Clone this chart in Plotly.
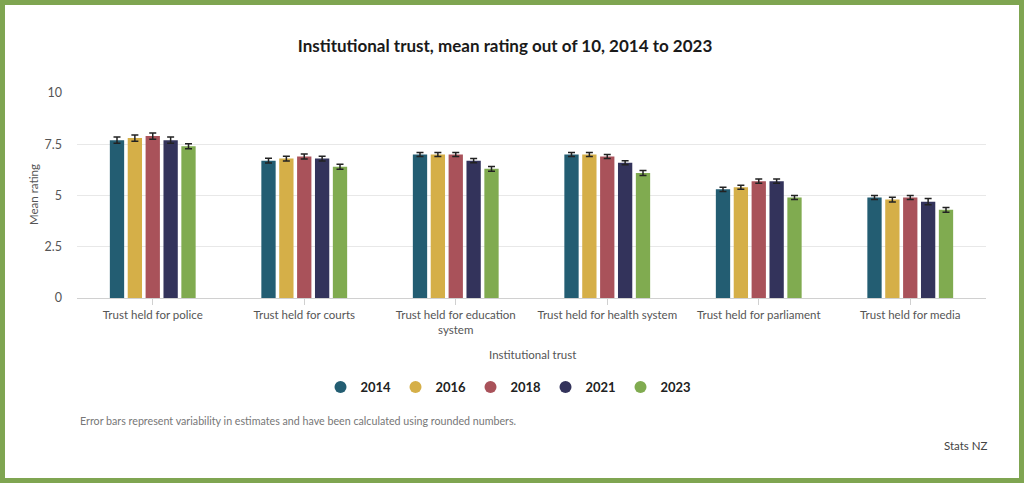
import plotly.graph_objects as go

categories = ["Trust held for police", "Trust held for courts", "Trust held for education<br>system",
              "Trust held for health system", "Trust held for parliament", "Trust held for media"]
years = ["2014", "2016", "2018", "2021", "2023"]
values = {
    "2014": [7.7, 6.7, 7.0, 7.0, 5.3, 4.9],
    "2016": [7.8, 6.8, 7.0, 7.0, 5.4, 4.8],
    "2018": [7.9, 6.9, 7.0, 6.9, 5.7, 4.9],
    "2021": [7.7, 6.8, 6.7, 6.6, 5.7, 4.7],
    "2023": [7.4, 6.4, 6.3, 6.1, 4.9, 4.3],
}
errors = {
    "2014": [0.15, 0.12, 0.1, 0.1, 0.1, 0.1],
    "2016": [0.15, 0.12, 0.1, 0.1, 0.1, 0.12],
    "2018": [0.15, 0.12, 0.1, 0.1, 0.1, 0.1],
    "2021": [0.15, 0.12, 0.1, 0.1, 0.1, 0.15],
    "2023": [0.12, 0.12, 0.12, 0.12, 0.1, 0.12],
}
colors = {"2014": "#235d72", "2016": "#d5af48", "2018": "#a9525a", "2021": "#33335b", "2023": "#80ab50"}
y_ticks = [0, 2.5, 5, 7.5, 10]
y_ticktext = ["0", "2.5", "5", "7.5", "10"]

W, H = 1024, 483
L, R, T, B = 77, 986, 93, 298
pw, ph = R - L, B - T

def px(x):
    return (x - L) / pw

def py(y):
    return (B - y) / ph

FONT = "Lato"
fig = go.Figure()
for yr in years:
    fig.add_trace(go.Bar(
        x=categories, y=values[yr], name=yr, marker_color=colors[yr], marker_line_width=0,
        error_y=dict(type="data", array=errors[yr], color="#222", thickness=1.5, width=3.5),
        showlegend=False,
    ))
for yr in years:
    fig.add_trace(go.Scatter(
        x=[None], y=[None], mode="markers", name=yr,
        marker=dict(symbol="circle", size=15, color=colors[yr]),
        showlegend=True,
    ))

fig.update_layout(
    width=W, height=H,
    margin=dict(l=L, r=W - R, t=T, b=H - B, autoexpand=False),
    paper_bgcolor="white", plot_bgcolor="white",
    barmode="group", bargap=0.41, bargroupgap=0.2,
    font=dict(family=FONT, color="#555"),
    title=dict(text="<b>Institutional trust, mean rating out of 10, 2014 to 2023</b>",
               x=505 / W, xanchor="center", xref="container",
               y=1 - 46 / H, yanchor="middle", yref="container",
               font=dict(family=FONT, size=17, color="#1a1a1a")),
    legend=dict(orientation="h", x=px(508), xanchor="center", y=py(387), yanchor="middle",
                font=dict(family=FONT, size=13, color="#222", weight="bold"),
                entrywidth=30, itemsizing="constant", bgcolor="rgba(0,0,0,0)"),
    xaxis=dict(showgrid=False, showline=True, linecolor="#d0d0d0", linewidth=1,
               ticks="outside", ticklen=6, tickcolor="#d0d0d0",
               tickfont=dict(family=FONT, size=11.5, color="#555"), tickangle=0,
               fixedrange=True),
    yaxis=dict(range=[0, 10], tickvals=y_ticks, ticktext=y_ticktext,
               showgrid=True, gridcolor="#e8e8e8", gridwidth=1, zeroline=False,
               showline=False, ticks="", ticklabelstandoff=14,
               tickfont=dict(family=FONT, size=12.5, color="#555")),
    shapes=[dict(type="rect", xref="paper", yref="paper",
                 x0=px(2.5), x1=px(W - 2.5), y0=py(H - 2.5), y1=py(2.5),
                 line=dict(color="#7fa551", width=5), fillcolor="rgba(0,0,0,0)", layer="above")],
    annotations=[
        dict(text="Institutional trust", xref="paper", yref="paper", x=px(532), y=py(354),
             showarrow=False, font=dict(family=FONT, size=11.5, color="#555"),
             xanchor="center", yanchor="middle"),
        dict(text="Mean rating", xref="paper", yref="paper", x=px(33), y=py(195), textangle=-90,
             showarrow=False, font=dict(family=FONT, size=11.5, color="#555"),
             xanchor="center", yanchor="middle"),
        dict(text="Error bars represent variability in estimates and have been calculated using rounded numbers.",
             xref="paper", yref="paper", x=px(78), y=py(420), showarrow=False,
             font=dict(family=FONT, size=10.7, color="#777"), xanchor="left", yanchor="middle"),
        dict(text="Stats NZ", xref="paper", yref="paper", x=px(990), y=py(445), showarrow=False,
             font=dict(family=FONT, size=11.5, color="#444"), xanchor="right", yanchor="middle"),
    ],
)

fig.write_html("out.html", config={"displayModeBar": False},
               post_script="document.body.style.margin='0';document.body.style.overflow='hidden';")
